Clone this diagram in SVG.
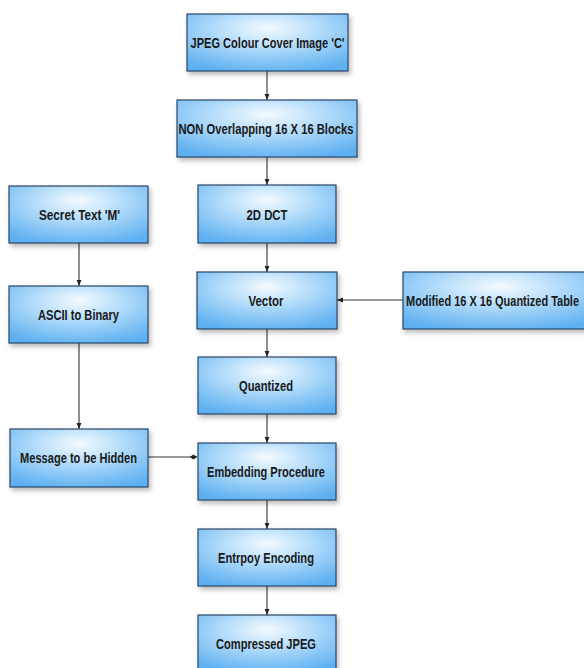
<svg xmlns="http://www.w3.org/2000/svg" width="584" height="668" viewBox="0 0 584 668">
<defs>
<radialGradient id="g" cx="0.5" cy="0.3" r="0.75" fx="0.5" fy="0.25">
<stop offset="0" stop-color="#f4faff"/>
<stop offset="0.35" stop-color="#bfe2fb"/>
<stop offset="1" stop-color="#5eb0f1"/>
</radialGradient>
<filter id="sh" x="-10%" y="-20%" width="125%" height="150%">
<feDropShadow dx="2" dy="3" stdDeviation="2.5" flood-color="#000" flood-opacity="0.28"/>
</filter>
<marker id="ah" viewBox="0 0 10 10" refX="10" refY="5" markerWidth="6" markerHeight="6" orient="auto" markerUnits="userSpaceOnUse">
<path d="M0,1 L10,5 L0,9 Z" fill="#222"/>
</marker>
<marker id="dm" viewBox="0 0 12 10" refX="12" refY="5" markerWidth="8" markerHeight="6" orient="auto" markerUnits="userSpaceOnUse">
<path d="M0,5 L6,1 L12,5 L6,9 Z" fill="#222"/>
</marker>
</defs>
<style>
.box{fill:url(#g);stroke:#2b4766;stroke-width:1.2;filter:url(#sh)}
.t{font-family:"Liberation Sans",Arial,sans-serif;font-weight:bold;font-size:15px;fill:#1a1a1a;text-anchor:middle}
.c{stroke:#333;stroke-width:1.1;fill:none;marker-end:url(#ah)}
</style>
<rect width="584" height="668" fill="#fff"/>
<g id="connectors">
<line class="c" x1="267" y1="71" x2="267" y2="100"/>
<line class="c" x1="267" y1="157" x2="267" y2="185"/>
<line class="c" x1="267" y1="243" x2="267" y2="272"/>
<line class="c" x1="267" y1="329" x2="267" y2="357"/>
<line class="c" x1="267" y1="414" x2="267" y2="443"/>
<line class="c" x1="267" y1="500" x2="267" y2="529"/>
<line class="c" x1="267" y1="586" x2="267" y2="615"/>
<line class="c" x1="79" y1="243" x2="79" y2="286"/>
<line class="c" x1="79" y1="343" x2="79" y2="429"/>
<line class="c" x1="148" y1="457" x2="197" y2="457" style="marker-end:url(#dm)"/>
<line class="c" x1="403" y1="300" x2="337" y2="300"/>
</g>
<g id="n1"><rect class="box" x="187" y="14" width="161" height="57"/><text class="t" x="267.5" y="48" textLength="154" lengthAdjust="spacingAndGlyphs">JPEG Colour Cover Image 'C'</text></g>
<g id="n2"><rect class="box" x="177" y="100" width="180" height="57"/><text class="t" x="266" y="134" textLength="175" lengthAdjust="spacingAndGlyphs">NON Overlapping 16 X 16 Blocks</text></g>
<g id="n3"><rect class="box" x="198" y="185" width="138" height="58"/><text class="t" x="267" y="219.5" textLength="41" lengthAdjust="spacingAndGlyphs">2D DCT</text></g>
<g id="n4"><rect class="box" x="197" y="272" width="140" height="57"/><text class="t" x="266" y="306" textLength="35" lengthAdjust="spacingAndGlyphs">Vector</text></g>
<g id="n5"><rect class="box" x="198" y="357" width="138" height="57"/><text class="t" x="266" y="391" textLength="54" lengthAdjust="spacingAndGlyphs">Quantized</text></g>
<g id="n6"><rect class="box" x="198" y="443" width="138" height="57"/><text class="t" x="266" y="477" textLength="118" lengthAdjust="spacingAndGlyphs">Embedding Procedure</text></g>
<g id="n7"><rect class="box" x="198" y="529" width="138" height="57"/><text class="t" x="266" y="563" textLength="96" lengthAdjust="spacingAndGlyphs">Entrpoy Encoding</text></g>
<g id="n8"><rect class="box" x="198" y="615" width="138" height="57"/><text class="t" x="266" y="648.5" textLength="100" lengthAdjust="spacingAndGlyphs">Compressed JPEG</text></g>
<g id="n9"><rect class="box" x="9" y="186" width="139" height="57"/><text class="t" x="79.5" y="220" textLength="81" lengthAdjust="spacingAndGlyphs">Secret Text 'M'</text></g>
<g id="n10"><rect class="box" x="9" y="286" width="139" height="57"/><text class="t" x="78.5" y="320" textLength="81" lengthAdjust="spacingAndGlyphs">ASCII to Binary</text></g>
<g id="n11"><rect class="box" x="10" y="429" width="138" height="58"/><text class="t" x="78.5" y="463" textLength="117" lengthAdjust="spacingAndGlyphs">Message to be Hidden</text></g>
<g id="n12"><rect class="box" x="403" y="272" width="192" height="57"/><text class="t" x="406" y="306" textLength="173" lengthAdjust="spacingAndGlyphs" style="text-anchor:start">Modified 16 X 16 Quantized Table</text></g>
</svg>
